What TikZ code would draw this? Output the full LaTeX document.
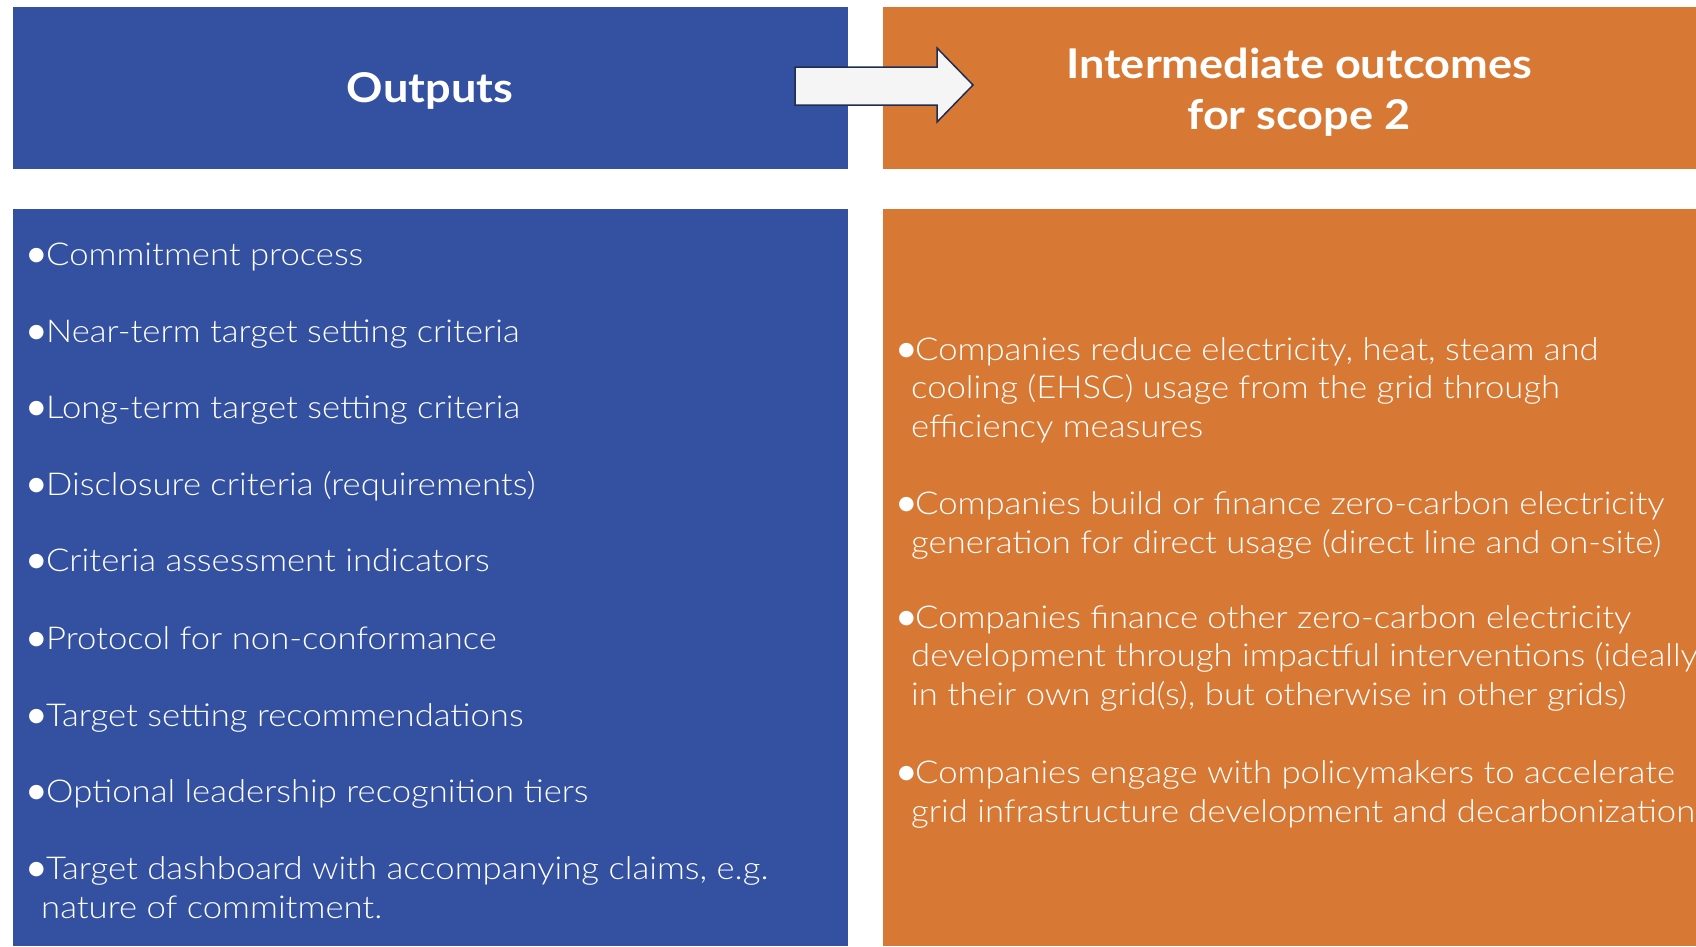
\documentclass[tikz,border=0pt]{standalone}
\usepackage{fontspec}
\setmainfont{Lato}[UprightFont={* Light},BoldFont={* Bold},FakeStretch=1.1]
\newfontfamily\symfont{DejaVu Sans}
\definecolor{sbtblue}{RGB}{52,80,160}
\definecolor{sbtorange}{RGB}{215,120,52}
\definecolor{arrowfill}{RGB}{245,245,245}
\definecolor{arrowline}{RGB}{30,45,80}
\newcommand\bul[1]{\makebox[#1][l]{\raisebox{5pt}{\symfont\fontsize{19}{19}\selectfont ●}}}
\begin{document}
\begin{tikzpicture}[x=1pt,y=-1pt,
  panel/.style={inner sep=0pt,outer sep=0pt},
  hdrtext/.style={text=white,font=\fontsize{41}{51}\selectfont\bfseries,align=center,inner sep=0pt},
  itemtext/.style={text=white,font=\fontsize{31.5}{38.5}\selectfont,align=left,inner sep=0pt,anchor=base west}]
\useasboundingbox[fill=white] (0,0) rectangle (1696,946);
% boxes
\fill[sbtblue] (13,6.5) rectangle (848,169);
\node[panel] (outhdr) at (430.5,88) {};
\fill[sbtorange] (883,6.5) rectangle (1696,169);
\node[panel] (inthdr) at (1299,88) {};
\fill[sbtblue] (13,209) rectangle (848,946);
\fill[sbtorange] (883,209) rectangle (1696,946);
% header texts
\node[hdrtext] (outtitle) at (430,91) {Outputs};
\node[hdrtext] (inttitle) at (1299,92) {Intermediate outcomes\\for scope 2};
% arrow
\coordinate (a1) at (795,67);
\coordinate (a2) at (937,67);
\coordinate (a3) at (937,48);
\coordinate (a4) at (973,85);
\coordinate (a5) at (937,122);
\coordinate (a6) at (937,105);
\coordinate (a7) at (795,105);
\draw[fill=arrowfill,draw=arrowline,line width=1.5pt,line join=miter]
  (a1) -- (a2) -- (a3) -- (a4) -- (a5) -- (a6) -- (a7) -- cycle;
% left items (anchor = baseline of last line)
\node[itemtext] (o1) at (28,265) {\bul{18pt}Commitment process};
\node[itemtext] (o2) at (28,342) {\bul{18pt}Near-term target setting criteria};
\node[itemtext] (o3) at (28,418) {\bul{18pt}Long-term target setting criteria};
\node[itemtext] (o4) at (28,495) {\bul{18pt}Disclosure criteria (requirements)};
\node[itemtext] (o5) at (28,571) {\bul{18pt}Criteria assessment indicators};
\node[itemtext] (o6) at (28,649) {\bul{18pt}Protocol for non-conformance};
\node[itemtext] (o7) at (28,726) {\bul{18pt}Target setting recommendations};
\node[itemtext] (o8) at (28,802) {\bul{18pt}Optional leadership recognition tiers};
\node[itemtext] (o9) at (28,918) {\bul{18pt}Target dashboard with accompanying claims, e.g.\\\hspace*{13pt}nature of commitment.};
% right items (anchor = baseline of last line)
\node[itemtext] (i1) at (898,437) {\bul{17pt}Companies reduce electricity, heat, steam and\\\hspace*{13pt}cooling (EHSC) usage from the grid through\\\hspace*{13pt}efficiency measures};
\node[itemtext] (i2) at (898,553) {\bul{17pt}Companies build or finance zero-carbon electricity\\\hspace*{13pt}generation for direct usage (direct line and on-site)};
\node[itemtext] (i3) at (898,705) {\bul{17pt}Companies finance other zero-carbon electricity\\\hspace*{13pt}development through impactful interventions (ideally\\\hspace*{13pt}in their own grid(s), but otherwise in other grids)};
\node[itemtext] (i4) at (898,822) {\bul{17pt}Companies engage with policymakers to accelerate\\\hspace*{13pt}grid infrastructure development and decarbonization};
\end{tikzpicture}
\end{document}
